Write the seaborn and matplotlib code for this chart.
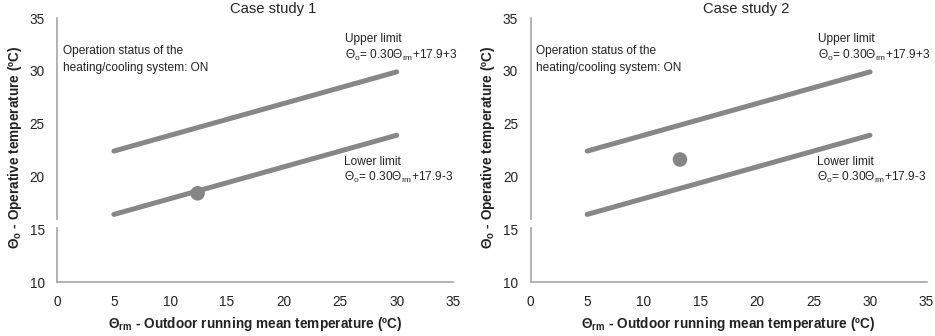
import matplotlib
matplotlib.use("Agg")
import matplotlib.pyplot as plt
import seaborn as sns
import pandas as pd

# ---- data ----
x_limits = [5, 10, 15, 20, 25, 30]
upper_limit = [22.4, 23.9, 25.4, 26.9, 28.4, 29.9]
lower_limit = [16.4, 17.9, 19.4, 20.9, 22.4, 23.9]
case_titles = ["Case study 1", "Case study 2"]
case_x = [12.4, 13.2]
case_y = [18.4, 21.6]
x_ticks = [0, 5, 10, 15, 20, 25, 30, 35]
y_ticks = [10, 15, 20, 25, 30, 35]

sns.set_theme(style="white")
plt.rcParams['font.family'] = ['Liberation Sans', 'DejaVu Sans']
plt.rcParams['mathtext.fontset'] = 'custom'
plt.rcParams['mathtext.rm'] = 'Liberation Sans'
plt.rcParams['mathtext.it'] = 'Liberation Sans'
plt.rcParams['mathtext.bf'] = 'Liberation Sans:bold'

fig = plt.figure(figsize=(9.35, 3.36), dpi=100)
positions = [[0.0613, 0.1607, 0.4235, 0.7857], [0.5675, 0.1607, 0.4235, 0.7857]]

lim_df = pd.DataFrame({"x": x_limits, "upper": upper_limit, "lower": lower_limit})
line_col = "#878787"
spine_col = "#a6a6a6"
text_col = "#222222"
fs = 8.6

for i, pos in enumerate(positions):
    ax = fig.add_axes(pos)
    sns.lineplot(data=lim_df, x="x", y="upper", ax=ax, color=line_col, lw=3.6)
    sns.lineplot(data=lim_df, x="x", y="lower", ax=ax, color=line_col, lw=3.6)
    pt = pd.DataFrame({"x": [case_x[i]], "y": [case_y[i]]})
    sns.scatterplot(data=pt, x="x", y="y", ax=ax, color="#858585", s=110,
                    edgecolor="none", zorder=5)
    ax.set_xlim(0, 35)
    ax.set_ylim(10, 35)
    ax.set_xticks(x_ticks)
    ax.set_yticks(y_ticks)
    for s in ["top", "right"]:
        ax.spines[s].set_visible(False)
    for s in ["left", "bottom"]:
        ax.spines[s].set_color(spine_col)
        ax.spines[s].set_linewidth(1.2)
    ax.tick_params(axis="both", which="both", direction="out", length=4,
                   width=1, color=spine_col, labelsize=9.8, labelcolor=text_col, pad=5)
    ax.set_xlabel(r"$\mathregular{\Theta_{rm}}$ - Outdoor running mean temperature (ºC)",
                  fontsize=9.8, fontweight="bold", color=text_col, va="center")
    ax.xaxis.set_label_coords(0.5, -0.159)
    ax.set_ylabel(r"$\mathregular{\Theta_{o}}$ - Operative temperature (ºC)",
                  fontsize=9.8, fontweight="bold", color=text_col, va="center")
    ax.yaxis.set_label_coords(-0.107, 0.51)
    # small gap in the vertical axis line, as in the reference
    ax.plot([0, 0], [15.22, 15.85], color="white", lw=3, clip_on=False, zorder=10,
            solid_capstyle="butt")
    ax.text(0.545, 1.035, case_titles[i], transform=ax.transAxes, ha="center",
            va="center", fontsize=10.6, color=text_col)
    ax.text(0.5, 31.9, "Operation status of the", fontsize=fs, color=text_col, va="center")
    ax.text(0.5, 30.3, "heating/cooling system: ON", fontsize=fs, color=text_col, va="center")
    ax.text(25.4, 33.0, "Upper limit", fontsize=fs, color=text_col, va="center")
    ax.text(25.4, 31.5, r"$\mathregular{\Theta_{o}}$= 0.30$\mathregular{\Theta_{rm}}$+17.9+3",
            fontsize=fs, color=text_col, va="center")
    ax.text(25.3, 21.4, "Lower limit", fontsize=fs, color=text_col, va="center")
    ax.text(25.3, 19.9, r"$\mathregular{\Theta_{o}}$= 0.30$\mathregular{\Theta_{rm}}$+17.9-3",
            fontsize=fs, color=text_col, va="center")

fig.savefig("out.png", dpi=100)
